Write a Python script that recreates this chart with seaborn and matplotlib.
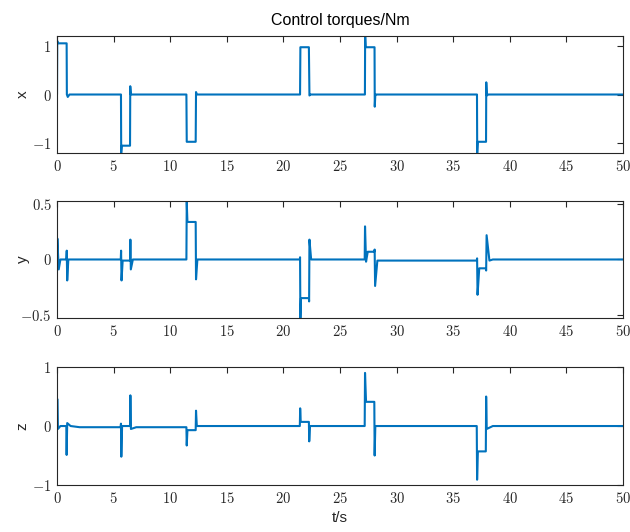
import numpy as np
import pandas as pd
import matplotlib
matplotlib.use("Agg")
import matplotlib.pyplot as plt
import seaborn as sns

# ---------------------------------------------------------------
# breakpoints (time in s, torque in Nm)
# ---------------------------------------------------------------
t_x = [0, 0.02, 0.08, 0.85, 0.87, 0.95, 1.1,
       5.65, 5.67, 5.72, 6.45, 6.47, 6.52, 6.6,
       11.43, 11.46, 12.25, 12.28, 12.35,
       21.47, 21.5, 22.25, 22.3, 22.4,
       27.2, 27.22, 27.27, 28.05, 28.07, 28.12, 28.2,
       37.1, 37.12, 37.17, 37.9, 37.92, 37.97, 38.1, 50]
val_x = [0, 1.1, 1.05, 1.05, 0, -0.05, 0,
         0, -1.2, -1.05, -1.05, 0.17, 0, 0,
         0, -0.97, -0.97, 0.05, 0,
         0, 0.97, 0.97, -0.02, 0,
         0, 1.25, 0.97, 0.97, -0.25, 0.0, 0,
         0, -1.2, -0.97, -0.97, 0.25, -0.02, 0, 0]

t_y = [0, 0.03, 0.15, 0.3, 0.82, 0.86, 0.9, 1.0, 1.3,
       5.63, 5.66, 5.7, 5.8, 6.45, 6.48, 6.52, 6.7,
       11.43, 11.46, 11.52, 12.25, 12.28, 12.4,
       21.45, 21.47, 21.5, 21.55, 22.25, 22.27, 22.3, 22.45,
       27.18, 27.21, 27.3, 27.45, 28.03, 28.06, 28.1, 28.3, 28.9,
       37.08, 37.11, 37.15, 37.3, 37.88, 37.91, 37.95, 38.2, 38.5, 50]
val_y = [0, 0.19, -0.09, 0, 0, 0.08, -0.19, 0, 0,
         0, 0.08, -0.19, -0.01, -0.01, 0.18, -0.09, 0,
         0, 0.52, 0.34, 0.34, -0.18, 0,
         0, 0.02, -0.53, -0.35, -0.35, -0.38, 0.18, 0,
         0, 0.3, -0.02, 0.07, 0.07, 0.09, -0.24, -0.01, -0.01,
         -0.01, 0.01, -0.32, -0.08, -0.08, -0.1, 0.22, -0.01, 0, 0]

t_z = [0, 0.02, 0.08, 0.3, 0.82, 0.85, 0.9, 1.2, 2.0,
       5.62, 5.65, 5.68, 5.75, 6.45, 6.48, 6.53, 7.0,
       11.43, 11.46, 11.52, 12.25, 12.28, 12.35, 13.0,
       21.45, 21.48, 21.53, 22.25, 22.28, 22.35,
       27.18, 27.21, 27.3, 28.03, 28.06, 28.12, 28.4,
       37.08, 37.11, 37.18, 37.88, 37.91, 37.96, 38.5, 50]
val_z = [0, 0.46, -0.05, 0.0, 0.0, -0.49, 0.05, 0.0, -0.02,
         -0.02, 0.04, -0.52, 0.0, 0.0, 0.52, -0.05, -0.02,
         -0.02, -0.33, -0.07, -0.07, 0.26, 0.0, 0.0,
         0.0, 0.3, 0.07, 0.07, -0.26, 0.0,
         0.0, 0.9, 0.41, 0.41, -0.5, 0.0, 0.0,
         0.0, -0.91, -0.43, -0.43, 0.5, -0.05, 0.0, 0.0]

x_ticks = [0, 5, 10, 15, 20, 25, 30, 35, 40, 45, 50]
panels = [
    ("x", t_x, val_x, (-1.2, 1.2), [-1, 0, 1]),
    ("y", t_y, val_y, (-0.53, 0.53), [-0.5, 0, 0.5]),
    ("z", t_z, val_z, (-1, 1), [-1, 0, 1]),
]

sns.set_style("white")
plt.rcParams["font.family"] = ["Liberation Sans", "DejaVu Sans"]
plt.rcParams["mathtext.fontset"] = "cm"

fig = plt.figure(figsize=(6.3, 5.32), dpi=100)
boxes = [[0.0905, 0.7124, 0.8984, 0.2199],
         [0.0905, 0.4023, 0.8984, 0.2199],
         [0.0905, 0.0883, 0.8984, 0.2218]]


def fmt(v):
    return "$" + ("%g" % v) + "$"


for box, (name, tt, vv, ylim, yt) in zip(boxes, panels):
    ax = fig.add_axes(box)
    df = pd.DataFrame({"t": tt, "v": vv})
    sns.lineplot(data=df, x="t", y="v", ax=ax, color="#0072BD",
                 linewidth=1.5, estimator=None, sort=False)
    ax.set_xlim(0, 50)
    ax.set_ylim(*ylim)
    ax.set_xticks(x_ticks)
    ax.set_xticklabels([fmt(v) for v in x_ticks])
    ax.set_yticks(yt)
    ax.set_yticklabels([fmt(v) for v in yt])
    ax.tick_params(direction="in", length=4, width=0.8, top=True, right=True,
                   labelsize=10.5, colors="#262626", pad=4)
    for sp in ax.spines.values():
        sp.set_visible(True)
        sp.set_color("#262626")
        sp.set_linewidth(0.8)
    ax.set_ylabel(name, fontsize=11, color="#262626")
    ax.yaxis.set_label_coords(-0.048, 0.5)
    ax.set_xlabel("")
    if name == "x":
        ax.set_title("Control torques/Nm", fontsize=11.5, color="black", pad=8)
    if name == "z":
        ax.set_xlabel("t/s", fontsize=11, color="#262626", labelpad=4)

fig.savefig("out.png", dpi=100)
